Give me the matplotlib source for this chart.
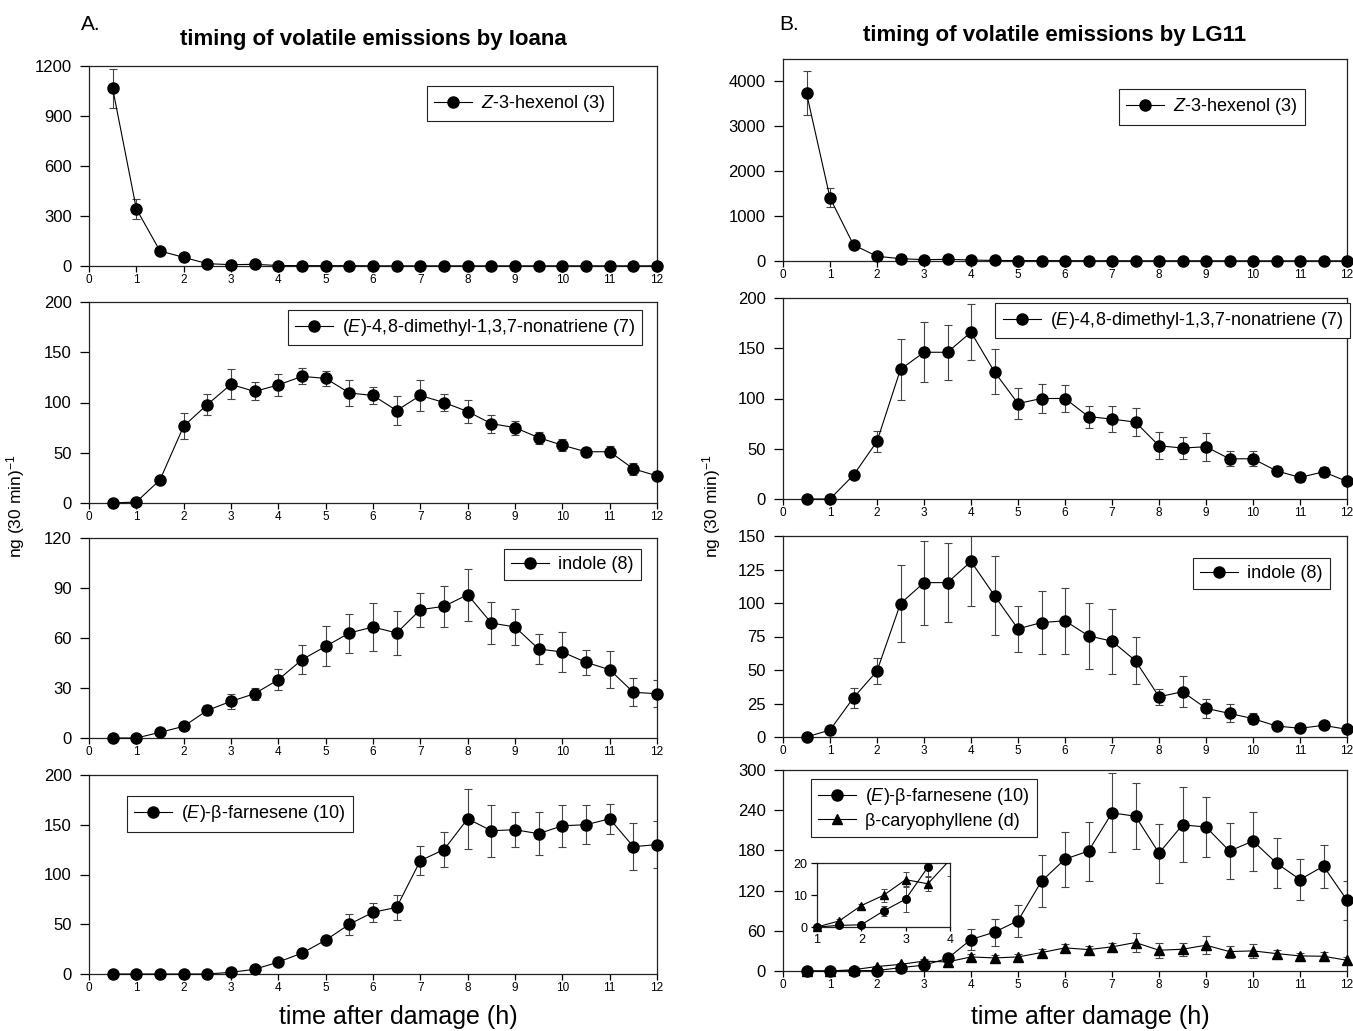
import matplotlib
matplotlib.use("Agg")
import matplotlib.pyplot as plt
from matplotlib.ticker import MultipleLocator

plt.rcParams["font.family"] = ["Liberation Sans", "DejaVu Sans"]
plt.rcParams["mathtext.fontset"] = "custom"
plt.rcParams["mathtext.rm"] = "Liberation Sans"
plt.rcParams["mathtext.it"] = "Liberation Sans:italic"
plt.rcParams["mathtext.bf"] = "Liberation Sans:bold"

# sampling times (h after damage)
HOURS = [0.5, 1, 1.5, 2, 2.5, 3, 3.5, 4, 4.5, 5, 5.5, 6,
         6.5, 7, 7.5, 8, 8.5, 9, 9.5, 10, 10.5, 11, 11.5, 12]

# --- Ioana ---
IOANA_HEX = [1065, 343, 90, 52, 14, 8, 10, 3, 2, 2, 2, 1,
             1, 1, 1, 1, 1, 1, 1, 1, 1, 1, 1, 1]
IOANA_HEX_SE = [117, 58, 10, 8, 4, 3, 3, 1, 1, 1, 1, 0,
                0, 0, 0, 0, 0, 0, 0, 0, 0, 0, 0, 0]
IOANA_DMNT = [0, 1, 23, 76.5, 98, 118, 111, 117.5, 126, 124, 109.5, 107,
              92, 107, 100, 91, 79, 75, 65, 57.5, 51, 51, 34, 27]
IOANA_DMNT_SE = [0, 0, 3, 13, 10, 15, 9, 11, 8, 7.5, 13, 8,
                 14, 15, 8, 11, 9, 7, 6, 6, 3.5, 5.5, 6, 4.5]
IOANA_INDOLE = [0, 0, 3.4, 7, 16.6, 22, 26.6, 35, 47, 55, 63, 66.6,
                63, 77, 79, 86, 69, 66.6, 53.4, 51.6, 45.4, 41, 27.4, 26.6]
IOANA_INDOLE_SE = [0, 0, 1, 1.5, 3, 4.5, 3.7, 6.4, 8.7, 12, 11.7, 14.3,
                   13, 10.3, 12.2, 15.5, 12.7, 11, 8.8, 11.8, 7.4, 11, 8.4, 8]
IOANA_FARN = [0, 0, 0, 0, 0, 1.7, 4.7, 12, 21, 34, 50, 62,
              67, 114, 125, 156, 144, 145, 141, 149, 150, 156, 128, 130]
IOANA_FARN_SE = [0, 0, 0, 0, 0, 1, 1.5, 2, 3, 4, 10.5, 9.4,
                 12.3, 15, 17.5, 30, 26, 17.8, 21.4, 21, 19.6, 15, 23.5, 23.4]

# --- LG11 ---
LG11_HEX = [3740, 1406, 359, 105, 52, 30, 37, 22, 12, 10, 8, 8,
            6, 6, 5, 5, 5, 5, 4, 4, 4, 4, 4, 4]
LG11_HEX_SE = [494, 210, 40, 20, 10, 8, 8, 5, 3, 2, 2, 2,
               2, 2, 2, 2, 2, 2, 2, 2, 2, 2, 2, 2]
LG11_DMNT = [0, 0, 23.8, 57.3, 129, 146, 146, 166, 126.5, 95, 100, 100,
             82, 79.5, 76.5, 53, 50.7, 52, 40, 40, 28, 21.5, 27, 17.5]
LG11_DMNT_SE = [0, 0, 3, 10.5, 30.6, 30, 27.6, 27.8, 22.5, 15, 14.2, 13.4,
                11, 13.2, 14, 13.2, 10.8, 13.8, 7.5, 7.5, 4.5, 4.5, 5, 4]
LG11_INDOLE = [0, 5.2, 29.3, 49.2, 99.6, 115.2, 115.2, 131, 105.5, 80.7, 85.4, 86.7,
               75.5, 71.5, 56.9, 30, 33.8, 21.4, 17.6, 13.7, 8.2, 6.5, 8.7, 5.7]
LG11_INDOLE_SE = [0, 1, 7.3, 9.4, 29, 31.4, 29.7, 33, 29.5, 17, 23.2, 24.8,
                  24.6, 24.3, 17.4, 6, 11.4, 7, 6.7, 4, 2, 2, 2, 2]
LG11_FARN = [0, 0, 0.5, 0.7, 5, 8.7, 18.7, 47, 58, 75, 134, 167,
             179, 236, 231, 176, 218, 215, 179, 194, 161, 136.5, 156.5, 105.6]
LG11_FARN_SE = [0, 0, 0.3, 0.5, 1.7, 4, 3, 15.5, 20, 24, 39, 41,
                44, 59, 49, 44, 56, 45, 42, 44, 37, 30, 32, 29]
LG11_CARYO = [0, 0, 1.9, 6.7, 9.9, 14.8, 13.5, 21, 19.5, 21, 27.5, 34.5,
              32, 36, 42.5, 31, 32.5, 38.5, 29, 30, 26, 22.5, 22, 16]
LG11_CARYO_SE = [0, 0.3, 0.5, 0.5, 2, 2.4, 2.4, 5, 4, 4, 6, 6,
                 6, 6, 14, 11, 10, 13, 9, 10, 6, 5, 6.5, 5]

LBL_HEX = r"$\mathit{Z}$-3-hexenol (3)"
LBL_DMNT = r"($\mathit{E}$)-4,8-dimethyl-1,3,7-nonatriene (7)"
LBL_INDOLE = "indole (8)"
LBL_FARN = r"($\mathit{E}$)-β-farnesene (10)"
LBL_CARYO = "β-caryophyllene (d)"

W, H = 1353, 1031
fig = plt.figure(figsize=(W / 100, H / 100), dpi=100)
fig.patch.set_facecolor("white")


def px_axes(x0, x1, ytop, ybot):
    return fig.add_axes([x0 / W, 1 - ybot / H, (x1 - x0) / W, (ybot - ytop) / H])


def style(ax, ymax, ystep, xmin=0, xmax=12, tick_fs=8.5, ytick_fs=12):
    ax.set_xlim(xmin, xmax)
    ax.set_ylim(0, ymax)
    ax.xaxis.set_major_locator(MultipleLocator(1))
    ax.yaxis.set_major_locator(MultipleLocator(ystep))
    for s in ax.spines.values():
        s.set_color("#222222")
        s.set_linewidth(0.9)
    ax.tick_params(axis="x", direction="out", length=4, width=0.9, pad=2,
                   labelsize=tick_fs, top=False)
    ax.tick_params(axis="y", direction="out", length=6.5, width=0.9, pad=6,
                   labelsize=ytick_fs, right=False)


def series(ax, vals, se, marker="o", ms=8, label=None):
    ax.errorbar(HOURS, vals, yerr=se, fmt="none", ecolor="#444444",
                elinewidth=0.8, capsize=3, capthick=0.8, zorder=2)
    ax.plot(HOURS, vals, "-", marker=marker, color="black", ms=ms, lw=0.8,
            clip_on=False, zorder=3, label=label)


def legend(ax, loc, anchor):
    lg = ax.legend(loc=loc, bbox_to_anchor=anchor, borderaxespad=0,
                   fontsize=13, fancybox=False, framealpha=1,
                   edgecolor="#222222", handlelength=2.1, handletextpad=0.5,
                   borderpad=0.4, labelspacing=0.3)
    lg.get_frame().set_linewidth(0.8)


# column geometry (pixels)
A_X = (89, 657)
B_X = (783, 1347)
A_ROWS = [(66, 266), (302, 503), (538, 738), (775, 974)]
B_ROWS = [(59, 261), (298, 499), (536, 737), (770, 971)]

A_PANELS = [
    (IOANA_HEX, IOANA_HEX_SE, LBL_HEX, 1200, 300, "upper right", (0.9225, 0.90)),
    (IOANA_DMNT, IOANA_DMNT_SE, LBL_DMNT, 200, 50, "upper right", (0.974, 0.96)),
    (IOANA_INDOLE, IOANA_INDOLE_SE, LBL_INDOLE, 120, 30, "upper right", (0.972, 0.945)),
    (IOANA_FARN, IOANA_FARN_SE, LBL_FARN, 200, 50, "upper left", (0.067, 0.894)),
]
B_PANELS = [
    (LG11_HEX, LG11_HEX_SE, LBL_HEX, 4500, 1000, "upper right", (0.9255, 0.851)),
    (LG11_DMNT, LG11_DMNT_SE, LBL_DMNT, 200, 50, "upper right", (1.005, 0.975)),
    (LG11_INDOLE, LG11_INDOLE_SE, LBL_INDOLE, 150, 25, "upper right", (0.970, 0.891)),
    (LG11_FARN, LG11_FARN_SE, LBL_FARN, 300, 60, "upper left", (0.0496, 0.955)),
]

for xs, rows, panels in [(A_X, A_ROWS, A_PANELS), (B_X, B_ROWS, B_PANELS)]:
    for (ytop, ybot), (vals, se, lbl, ymax, ystep, loc, anchor) in zip(rows, panels):
        ax = px_axes(xs[0], xs[1], ytop, ybot)
        style(ax, ymax, ystep)
        series(ax, vals, se, label=lbl)
        if vals is LG11_FARN:
            series(ax, LG11_CARYO, LG11_CARYO_SE, marker="^", ms=7.5, label=LBL_CARYO)
        legend(ax, loc, anchor)

# inset for the early part of LG11 farnesene / caryophyllene
ins = px_axes(817, 950, 863, 927)
style(ins, 20, 10, xmin=1, xmax=4, tick_fs=9, ytick_fs=9)
ins.tick_params(axis="y", length=4, pad=3)
ins.tick_params(axis="x", length=3, pad=2)
for vals, se, mk in [(LG11_FARN, LG11_FARN_SE, "o"), (LG11_CARYO, LG11_CARYO_SE, "^")]:
    ins.errorbar(HOURS, vals, yerr=se, fmt="none", ecolor="#444444",
                 elinewidth=0.7, capsize=2.5, capthick=0.7, zorder=2)
    ins.plot(HOURS, vals, "-", color="black", lw=0.8, zorder=3)
    keep = [i for i, h in enumerate(HOURS) if 1 <= h <= 4 and vals[i] <= 20]
    ins.plot([HOURS[i] for i in keep], [vals[i] for i in keep], linestyle="none",
             marker=mk, color="black", ms=5.5, clip_on=False, zorder=4)

# titles and labels
fig.text(81 / W, 1 - 25 / H, "A.", fontsize=15, va="center", ha="left")
fig.text(779 / W, 1 - 25 / H, "B.", fontsize=15, va="center", ha="left")
fig.text(373 / W, 1 - 39 / H, "timing of volatile emissions by Ioana",
         fontsize=16, fontweight="bold", ha="center", va="center")
fig.text(1055 / W, 1 - 35 / H, "timing of volatile emissions by LG11",
         fontsize=16, fontweight="bold", ha="center", va="center")
for xc in (398, 1090):
    fig.text(xc / W, 1 - 1017 / H, "time after damage (h)", fontsize=18,
             ha="center", va="center")
for xc in (16, 712):
    fig.text(xc / W, 1 - 506 / H, r"ng (30 min)$^{\mathregular{-1}}$", fontsize=12.5,
             rotation=90, ha="center", va="center")

fig.savefig("out.png", dpi=100, facecolor="white")
